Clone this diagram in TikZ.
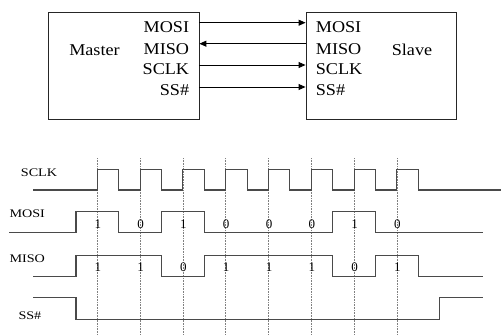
\documentclass[tikz,border=0pt]{standalone}
\usepackage{fontspec}
\setmainfont{Liberation Serif}
\newfontfamily\pinfont[FakeStretch=1.1]{Liberation Serif}
\newfontfamily\wavefont[FakeStretch=1.22]{Liberation Serif}
\usepackage{tikz}
\usetikzlibrary{arrows.meta}
\definecolor{WaveGray}{HTML}{4a4a4a}

\begin{document}
\begin{tikzpicture}[x=1pt, y=-1pt,
  unit/.style={draw=black!85, line width=0.9pt, inner sep=0pt},
  unitname/.style={font=\pinfont\fontsize{16.5}{18}\selectfont, inner sep=0pt},
  pin/.style={font=\pinfont\fontsize{16.5}{18}\selectfont, inner sep=0pt},
  wire/.style={-{Triangle[length=7pt,width=6pt]}, line width=0.9pt},
  wave/.style={draw=WaveGray, line width=1.1pt},
  sig/.style={font=\wavefont\fontsize{11.6}{13}\selectfont, inner sep=0pt, anchor=base west},
  bit/.style={font=\fontsize{13}{14}\selectfont, inner sep=0pt},
  tick/.style={draw=gray, densely dotted, line width=0.6pt},
  ]
  \useasboundingbox (0,0) rectangle (501,335);

  \node[unit, minimum width=150.7pt, minimum height=107pt] (master) at (123.6,65.5) {};
  \node[unit, minimum width=150pt, minimum height=107pt] (slave) at (381,65.5) {};
  \node[unitname] (mastertxt) at (94.5,50) {Master};
  \node[unitname] (slavetxt) at (412,50) {Slave};

  \node[pin, anchor=base east] (mmosi) at (189.3,32.7) {MOSI};
  \node[pin, anchor=base east] (mmiso) at (189.3,54.3) {MISO};
  \node[pin, anchor=base east] (msclk) at (189.3,74.3) {SCLK};
  \node[pin, anchor=base east] (mss) at (189.3,95) {SS\#};
  \node[pin, anchor=base west] (smosi) at (315.7,32.7) {MOSI};
  \node[pin, anchor=base west] (smiso) at (315.7,54.3) {MISO};
  \node[pin, anchor=base west] (ssclk) at (315.7,74.3) {SCLK};
  \node[pin, anchor=base west] (sss) at (315.7,95) {SS\#};

  \coordinate (row1) at (0,22.7);
  \coordinate (row2) at (0,43.7);
  \coordinate (row3) at (0,65);
  \coordinate (row4) at (0,87);
  \draw[wire] (master.east |- row1) -- (slave.west |- row1);
  \draw[wire] (slave.west |- row2) -- (master.east |- row2);
  \draw[wire] (master.east |- row3) -- (slave.west |- row3);
  \draw[wire] (master.east |- row4) -- (slave.west |- row4);

  \foreach \i in {0,...,7}
    \draw[tick] (97.3+42.8*\i,158) -- ++(0,177);

  \node[sig] (sclklbl) at (20.7,176) {SCLK};
  \node[sig] (mosilbl) at (9.3,217.3) {MOSI};
  \node[sig] (misolbl) at (9.3,262.3) {MISO};
  \node[sig] (sslbl) at (18.3,319) {SS\#};

  \draw[wave] (33.3,190) -- (97.3,190)
    foreach \k in {0,...,7} { -- ++(0,-20.5) -- ++(21.4,0) -- ++(0,20.5) -- ++(21.4,0) }
    -- (501,190);
  \draw[wave] (9.3,232.7) -| (76,211.7) -| (118.8,232.7) -| (161.6,211.7)
    -| (204.4,232.7) -| (332.8,211.7) -| (375.6,232.7) -- (482.7,232.7);
  \draw[wave] (33.3,276.7) -| (76,255.7) -| (161.6,276.7) -| (204.4,255.7)
    -| (332.8,276.7) -| (375.6,255.7) -| (418.4,276.7) -- (482.7,276.7);
  \draw[wave] (33.3,297.7) -| (76,319.3) -| (439.3,297.7) -- (482.7,297.7);

  \foreach \b [count=\i from 0] in {1,0,1,0,0,0,1,0}
    \node[bit] (mosibit\i) at (97.8+42.8*\i,224.5) {\b};
  \foreach \b [count=\i from 0] in {1,1,0,1,1,1,0,1}
    \node[bit] (misobit\i) at (97.8+42.8*\i,267) {\b};
\end{tikzpicture}
\end{document}
